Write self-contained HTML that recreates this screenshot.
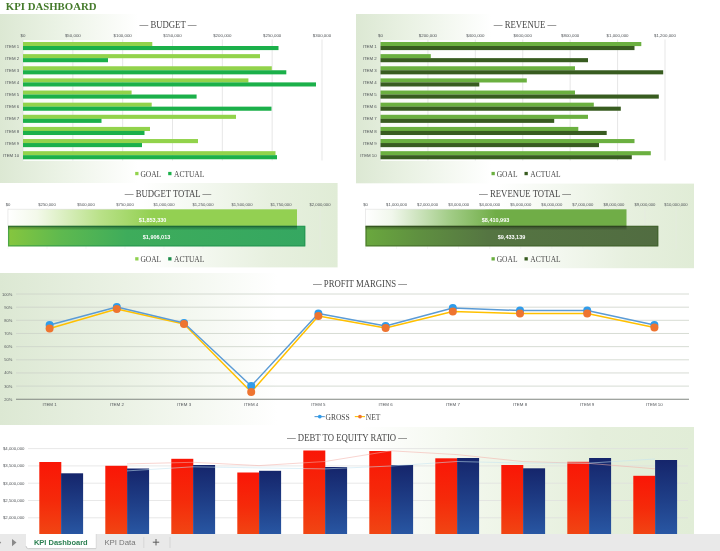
<!DOCTYPE html>
<html lang="en"><head><meta charset="utf-8"><title>KPI Dashboard</title>
<style>html,body{margin:0;padding:0;background:#fff;overflow:hidden}svg{display:block}</style></head><body>
<svg width="720" height="551" viewBox="0 0 720 551">
<defs>
<linearGradient id="gL" x1="0" x2="1" y1="0" y2="0"><stop offset="0" stop-color="#dce8d3"/><stop offset="0.16" stop-color="#eaf2e4"/><stop offset="0.4" stop-color="#ffffff"/></linearGradient>
<linearGradient id="gR" x1="0" x2="1" y1="0" y2="0"><stop offset="0.42" stop-color="#ffffff"/><stop offset="0.62" stop-color="#f2f7ee"/><stop offset="0.8" stop-color="#e7f0df"/><stop offset="1" stop-color="#e0ecd6"/></linearGradient>
<linearGradient id="gPM" x1="0" x2="1" y1="0" y2="0"><stop offset="0" stop-color="#dce8d3"/><stop offset="0.18" stop-color="#ebf2e5"/><stop offset="0.4" stop-color="#ffffff"/></linearGradient>
<linearGradient id="gDE" x1="0" x2="1" y1="0" y2="0"><stop offset="0.52" stop-color="#ffffff"/><stop offset="0.7" stop-color="#f0f6ea"/><stop offset="0.86" stop-color="#e5efdc"/><stop offset="1" stop-color="#e1edd7"/></linearGradient>
<linearGradient id="bgoal" x1="0" x2="1" y1="0" y2="0"><stop offset="0" stop-color="#ffffff"/><stop offset="0.1" stop-color="#f3f9ea"/><stop offset="0.32" stop-color="#b9e188"/><stop offset="0.5" stop-color="#93d052"/></linearGradient>
<linearGradient id="bact" x1="0" x2="1" y1="0" y2="0"><stop offset="0" stop-color="#86c63e"/><stop offset="0.18" stop-color="#5eb94f"/><stop offset="0.4" stop-color="#3eac5b"/><stop offset="1" stop-color="#35a761"/></linearGradient>
<linearGradient id="rgoal" x1="0" x2="1" y1="0" y2="0"><stop offset="0" stop-color="#ffffff"/><stop offset="0.1" stop-color="#f1f7ec"/><stop offset="0.32" stop-color="#a3cd88"/><stop offset="0.5" stop-color="#70ad47"/></linearGradient>
<linearGradient id="ract" x1="0" x2="1" y1="0" y2="0"><stop offset="0" stop-color="#6aa83e"/><stop offset="0.18" stop-color="#5f9040"/><stop offset="0.42" stop-color="#557542"/><stop offset="1" stop-color="#516c41"/></linearGradient>
<linearGradient id="red" x1="0" x2="0" y1="0" y2="1"><stop offset="0" stop-color="#fa1606"/><stop offset="0.5" stop-color="#f52a0a"/><stop offset="1" stop-color="#f04a15"/></linearGradient>
<linearGradient id="navy" x1="0" x2="0" y1="0" y2="1"><stop offset="0" stop-color="#15256b"/><stop offset="0.5" stop-color="#1f3f88"/><stop offset="1" stop-color="#2a5ba8"/></linearGradient>
<linearGradient id="shade" x1="0" x2="0" y1="0" y2="1"><stop offset="0" stop-color="#000" stop-opacity="0.38"/><stop offset="1" stop-color="#000" stop-opacity="0"/></linearGradient>
</defs>
<rect width="720" height="551" fill="#fff"/>
<text transform="translate(5.80 9.80) scale(1.1 1)" font-size="9.8" font-family="Liberation Serif, serif" fill="#447a2a" text-anchor="start" font-weight="bold">KPI DASHBOARD</text>
<rect x="0" y="14" width="345" height="169.2" fill="url(#gL)"/>
<rect x="356" y="14" width="338" height="169.5" fill="url(#gL)"/>
<rect x="0" y="183" width="337.6" height="84.4" fill="url(#gR)"/>
<rect x="356" y="183.6" width="338" height="84.6" fill="url(#gR)"/>
<rect x="0" y="273" width="694" height="152" fill="url(#gPM)"/>
<rect x="0" y="427" width="694" height="110" fill="url(#gDE)"/>
<rect x="23" y="40" width="311" height="121" fill="#fff" opacity="0.8"/>
<text transform="translate(168.00 28.00) scale(0.9 1)" font-size="9.7" font-family="Liberation Serif, serif" fill="#484848" text-anchor="middle">— BUDGET —</text>
<text x="23.00" y="36.80" font-size="4.4" font-family="Liberation Sans, sans-serif" fill="#505458" text-anchor="middle">$0</text>
<line x1="23.00" x2="23.00" y1="39.5" y2="160.5" stroke="#dcdcdc" stroke-width="0.7"/>
<text x="72.83" y="36.80" font-size="4.4" font-family="Liberation Sans, sans-serif" fill="#505458" text-anchor="middle">$50,000</text>
<line x1="72.83" x2="72.83" y1="39.5" y2="160.5" stroke="#dcdcdc" stroke-width="0.7"/>
<text x="122.67" y="36.80" font-size="4.4" font-family="Liberation Sans, sans-serif" fill="#505458" text-anchor="middle">$100,000</text>
<line x1="122.67" x2="122.67" y1="39.5" y2="160.5" stroke="#dcdcdc" stroke-width="0.7"/>
<text x="172.50" y="36.80" font-size="4.4" font-family="Liberation Sans, sans-serif" fill="#505458" text-anchor="middle">$150,000</text>
<line x1="172.50" x2="172.50" y1="39.5" y2="160.5" stroke="#dcdcdc" stroke-width="0.7"/>
<text x="222.33" y="36.80" font-size="4.4" font-family="Liberation Sans, sans-serif" fill="#505458" text-anchor="middle">$200,000</text>
<line x1="222.33" x2="222.33" y1="39.5" y2="160.5" stroke="#dcdcdc" stroke-width="0.7"/>
<text x="272.17" y="36.80" font-size="4.4" font-family="Liberation Sans, sans-serif" fill="#505458" text-anchor="middle">$250,000</text>
<line x1="272.17" x2="272.17" y1="39.5" y2="160.5" stroke="#dcdcdc" stroke-width="0.7"/>
<text x="322.00" y="36.80" font-size="4.4" font-family="Liberation Sans, sans-serif" fill="#505458" text-anchor="middle">$300,000</text>
<line x1="322.00" x2="322.00" y1="39.5" y2="160.5" stroke="#dcdcdc" stroke-width="0.7"/>
<rect x="23" y="42.00" width="129.30" height="4.1" fill="#92d34b"/>
<rect x="23" y="46.00" width="255.50" height="4.1" fill="#1bb04a"/>
<text x="19.20" y="47.65" font-size="4.35" font-family="Liberation Sans, sans-serif" fill="#505458" text-anchor="end">ITEM 1</text>
<rect x="23" y="54.13" width="237.00" height="4.1" fill="#92d34b"/>
<rect x="23" y="58.13" width="85.00" height="4.1" fill="#1bb04a"/>
<text x="19.20" y="59.78" font-size="4.35" font-family="Liberation Sans, sans-serif" fill="#505458" text-anchor="end">ITEM 2</text>
<rect x="23" y="66.26" width="248.80" height="4.1" fill="#92d34b"/>
<rect x="23" y="70.26" width="263.30" height="4.1" fill="#1bb04a"/>
<text x="19.20" y="71.91" font-size="4.35" font-family="Liberation Sans, sans-serif" fill="#505458" text-anchor="end">ITEM 3</text>
<rect x="23" y="78.39" width="225.40" height="4.1" fill="#92d34b"/>
<rect x="23" y="82.39" width="293.00" height="4.1" fill="#1bb04a"/>
<text x="19.20" y="84.04" font-size="4.35" font-family="Liberation Sans, sans-serif" fill="#505458" text-anchor="end">ITEM 4</text>
<rect x="23" y="90.52" width="108.60" height="4.1" fill="#92d34b"/>
<rect x="23" y="94.52" width="173.60" height="4.1" fill="#1bb04a"/>
<text x="19.20" y="96.17" font-size="4.35" font-family="Liberation Sans, sans-serif" fill="#505458" text-anchor="end">ITEM 5</text>
<rect x="23" y="102.65" width="128.70" height="4.1" fill="#92d34b"/>
<rect x="23" y="106.65" width="248.50" height="4.1" fill="#1bb04a"/>
<text x="19.20" y="108.30" font-size="4.35" font-family="Liberation Sans, sans-serif" fill="#505458" text-anchor="end">ITEM 6</text>
<rect x="23" y="114.78" width="213.00" height="4.1" fill="#92d34b"/>
<rect x="23" y="118.78" width="78.50" height="4.1" fill="#1bb04a"/>
<text x="19.20" y="120.43" font-size="4.35" font-family="Liberation Sans, sans-serif" fill="#505458" text-anchor="end">ITEM 7</text>
<rect x="23" y="126.91" width="127.00" height="4.1" fill="#92d34b"/>
<rect x="23" y="130.91" width="121.50" height="4.1" fill="#1bb04a"/>
<text x="19.20" y="132.56" font-size="4.35" font-family="Liberation Sans, sans-serif" fill="#505458" text-anchor="end">ITEM 8</text>
<rect x="23" y="139.04" width="175.00" height="4.1" fill="#92d34b"/>
<rect x="23" y="143.04" width="119.00" height="4.1" fill="#1bb04a"/>
<text x="19.20" y="144.69" font-size="4.35" font-family="Liberation Sans, sans-serif" fill="#505458" text-anchor="end">ITEM 9</text>
<rect x="23" y="151.17" width="252.50" height="4.1" fill="#92d34b"/>
<rect x="23" y="155.17" width="254.00" height="4.1" fill="#1bb04a"/>
<text x="19.20" y="156.82" font-size="4.35" font-family="Liberation Sans, sans-serif" fill="#505458" text-anchor="end">ITEM 10</text>
<rect x="135.2" y="171.90" width="3.3" height="3.3" fill="#92d34b"/>
<text transform="translate(140.40 177.00) scale(0.87 1)" font-size="8.6" font-family="Liberation Serif, serif" fill="#484848" text-anchor="start">GOAL</text>
<rect x="168.2" y="171.90" width="3.3" height="3.3" fill="#1bb04a"/>
<text transform="translate(174.00 177.00) scale(0.87 1)" font-size="8.6" font-family="Liberation Serif, serif" fill="#484848" text-anchor="start">ACTUAL</text>
<rect x="380.5" y="40" width="296.5" height="121" fill="#fff" opacity="0.8"/>
<text transform="translate(525.00 28.00) scale(0.9 1)" font-size="9.7" font-family="Liberation Serif, serif" fill="#484848" text-anchor="middle">— REVENUE —</text>
<text x="380.50" y="36.80" font-size="4.4" font-family="Liberation Sans, sans-serif" fill="#505458" text-anchor="middle">$0</text>
<line x1="380.50" x2="380.50" y1="39.5" y2="160.5" stroke="#dcdcdc" stroke-width="0.7"/>
<text x="427.92" y="36.80" font-size="4.4" font-family="Liberation Sans, sans-serif" fill="#505458" text-anchor="middle">$200,000</text>
<line x1="427.92" x2="427.92" y1="39.5" y2="160.5" stroke="#dcdcdc" stroke-width="0.7"/>
<text x="475.33" y="36.80" font-size="4.4" font-family="Liberation Sans, sans-serif" fill="#505458" text-anchor="middle">$400,000</text>
<line x1="475.33" x2="475.33" y1="39.5" y2="160.5" stroke="#dcdcdc" stroke-width="0.7"/>
<text x="522.75" y="36.80" font-size="4.4" font-family="Liberation Sans, sans-serif" fill="#505458" text-anchor="middle">$600,000</text>
<line x1="522.75" x2="522.75" y1="39.5" y2="160.5" stroke="#dcdcdc" stroke-width="0.7"/>
<text x="570.17" y="36.80" font-size="4.4" font-family="Liberation Sans, sans-serif" fill="#505458" text-anchor="middle">$800,000</text>
<line x1="570.17" x2="570.17" y1="39.5" y2="160.5" stroke="#dcdcdc" stroke-width="0.7"/>
<text x="617.58" y="36.80" font-size="4.4" font-family="Liberation Sans, sans-serif" fill="#505458" text-anchor="middle">$1,000,000</text>
<line x1="617.58" x2="617.58" y1="39.5" y2="160.5" stroke="#dcdcdc" stroke-width="0.7"/>
<text x="665.00" y="36.80" font-size="4.4" font-family="Liberation Sans, sans-serif" fill="#505458" text-anchor="middle">$1,200,000</text>
<line x1="665.00" x2="665.00" y1="39.5" y2="160.5" stroke="#dcdcdc" stroke-width="0.7"/>
<rect x="380.5" y="42.00" width="260.80" height="4.1" fill="#6bb040"/>
<rect x="380.5" y="46.00" width="254.00" height="4.1" fill="#385c20"/>
<text x="376.70" y="47.65" font-size="4.35" font-family="Liberation Sans, sans-serif" fill="#505458" text-anchor="end">ITEM 1</text>
<rect x="380.5" y="54.13" width="50.30" height="4.1" fill="#6bb040"/>
<rect x="380.5" y="58.13" width="207.50" height="4.1" fill="#385c20"/>
<text x="376.70" y="59.78" font-size="4.35" font-family="Liberation Sans, sans-serif" fill="#505458" text-anchor="end">ITEM 2</text>
<rect x="380.5" y="66.26" width="194.50" height="4.1" fill="#6bb040"/>
<rect x="380.5" y="70.26" width="282.70" height="4.1" fill="#385c20"/>
<text x="376.70" y="71.91" font-size="4.35" font-family="Liberation Sans, sans-serif" fill="#505458" text-anchor="end">ITEM 3</text>
<rect x="380.5" y="78.39" width="146.30" height="4.1" fill="#6bb040"/>
<rect x="380.5" y="82.39" width="98.80" height="4.1" fill="#385c20"/>
<text x="376.70" y="84.04" font-size="4.35" font-family="Liberation Sans, sans-serif" fill="#505458" text-anchor="end">ITEM 4</text>
<rect x="380.5" y="90.52" width="194.50" height="4.1" fill="#6bb040"/>
<rect x="380.5" y="94.52" width="278.30" height="4.1" fill="#385c20"/>
<text x="376.70" y="96.17" font-size="4.35" font-family="Liberation Sans, sans-serif" fill="#505458" text-anchor="end">ITEM 5</text>
<rect x="380.5" y="102.65" width="213.30" height="4.1" fill="#6bb040"/>
<rect x="380.5" y="106.65" width="240.30" height="4.1" fill="#385c20"/>
<text x="376.70" y="108.30" font-size="4.35" font-family="Liberation Sans, sans-serif" fill="#505458" text-anchor="end">ITEM 6</text>
<rect x="380.5" y="114.78" width="207.50" height="4.1" fill="#6bb040"/>
<rect x="380.5" y="118.78" width="173.70" height="4.1" fill="#385c20"/>
<text x="376.70" y="120.43" font-size="4.35" font-family="Liberation Sans, sans-serif" fill="#505458" text-anchor="end">ITEM 7</text>
<rect x="380.5" y="126.91" width="197.80" height="4.1" fill="#6bb040"/>
<rect x="380.5" y="130.91" width="226.20" height="4.1" fill="#385c20"/>
<text x="376.70" y="132.56" font-size="4.35" font-family="Liberation Sans, sans-serif" fill="#505458" text-anchor="end">ITEM 8</text>
<rect x="380.5" y="139.04" width="254.00" height="4.1" fill="#6bb040"/>
<rect x="380.5" y="143.04" width="218.50" height="4.1" fill="#385c20"/>
<text x="376.70" y="144.69" font-size="4.35" font-family="Liberation Sans, sans-serif" fill="#505458" text-anchor="end">ITEM 9</text>
<rect x="380.5" y="151.17" width="270.30" height="4.1" fill="#6bb040"/>
<rect x="380.5" y="155.17" width="251.30" height="4.1" fill="#385c20"/>
<text x="376.70" y="156.82" font-size="4.35" font-family="Liberation Sans, sans-serif" fill="#505458" text-anchor="end">ITEM 10</text>
<rect x="491.5" y="171.90" width="3.3" height="3.3" fill="#6bb040"/>
<text transform="translate(496.70 177.00) scale(0.87 1)" font-size="8.6" font-family="Liberation Serif, serif" fill="#484848" text-anchor="start">GOAL</text>
<rect x="524.5" y="171.90" width="3.3" height="3.3" fill="#385c20"/>
<text transform="translate(530.30 177.00) scale(0.87 1)" font-size="8.6" font-family="Liberation Serif, serif" fill="#484848" text-anchor="start">ACTUAL</text>
<text transform="translate(168.00 196.80) scale(0.9 1)" font-size="9.7" font-family="Liberation Serif, serif" fill="#484848" text-anchor="middle">— BUDGET TOTAL —</text>
<text x="8.00" y="205.60" font-size="4.2" font-family="Liberation Sans, sans-serif" fill="#505458" text-anchor="middle">$0</text>
<line x1="8.00" x2="8.00" y1="208" y2="249" stroke="#e6e6e6" stroke-width="0.6" opacity="0.6"/>
<text x="47.00" y="205.60" font-size="4.2" font-family="Liberation Sans, sans-serif" fill="#505458" text-anchor="middle">$250,000</text>
<line x1="47.00" x2="47.00" y1="208" y2="249" stroke="#e6e6e6" stroke-width="0.6" opacity="0.6"/>
<text x="86.00" y="205.60" font-size="4.2" font-family="Liberation Sans, sans-serif" fill="#505458" text-anchor="middle">$500,000</text>
<line x1="86.00" x2="86.00" y1="208" y2="249" stroke="#e6e6e6" stroke-width="0.6" opacity="0.6"/>
<text x="125.00" y="205.60" font-size="4.2" font-family="Liberation Sans, sans-serif" fill="#505458" text-anchor="middle">$750,000</text>
<line x1="125.00" x2="125.00" y1="208" y2="249" stroke="#e6e6e6" stroke-width="0.6" opacity="0.6"/>
<text x="164.00" y="205.60" font-size="4.2" font-family="Liberation Sans, sans-serif" fill="#505458" text-anchor="middle">$1,000,000</text>
<line x1="164.00" x2="164.00" y1="208" y2="249" stroke="#e6e6e6" stroke-width="0.6" opacity="0.6"/>
<text x="203.00" y="205.60" font-size="4.2" font-family="Liberation Sans, sans-serif" fill="#505458" text-anchor="middle">$1,250,000</text>
<line x1="203.00" x2="203.00" y1="208" y2="249" stroke="#e6e6e6" stroke-width="0.6" opacity="0.6"/>
<text x="242.00" y="205.60" font-size="4.2" font-family="Liberation Sans, sans-serif" fill="#505458" text-anchor="middle">$1,500,000</text>
<line x1="242.00" x2="242.00" y1="208" y2="249" stroke="#e6e6e6" stroke-width="0.6" opacity="0.6"/>
<text x="281.00" y="205.60" font-size="4.2" font-family="Liberation Sans, sans-serif" fill="#505458" text-anchor="middle">$1,750,000</text>
<line x1="281.00" x2="281.00" y1="208" y2="249" stroke="#e6e6e6" stroke-width="0.6" opacity="0.6"/>
<text x="320.00" y="205.60" font-size="4.2" font-family="Liberation Sans, sans-serif" fill="#505458" text-anchor="middle">$2,000,000</text>
<line x1="320.00" x2="320.00" y1="208" y2="249" stroke="#e6e6e6" stroke-width="0.6" opacity="0.6"/>
<rect x="8" y="209.3" width="289.00" height="16.7" fill="url(#bgoal)"/>
<path d="M8 226 V209.3 H128" fill="none" stroke="#cfcfcf" stroke-width="0.5" opacity="0.7"/>
<rect x="8" y="225.8" width="297.30" height="20.6" fill="url(#bact)"/>
<rect x="8.6" y="226.4" width="296.10" height="19.4" fill="none" stroke="#1d8c4a" stroke-width="1.2" opacity="0.55"/>
<rect x="8" y="225.8" width="289.00" height="4.5" fill="url(#shade)"/>
<text x="152.60" y="222.40" font-size="5.5" font-family="Liberation Sans, sans-serif" fill="#fff" text-anchor="middle" font-weight="bold">$1,853,330</text>
<text x="156.50" y="238.60" font-size="5.5" font-family="Liberation Sans, sans-serif" fill="#fff" text-anchor="middle" font-weight="bold">$1,906,013</text>
<rect x="135.2" y="257.20" width="3.3" height="3.3" fill="#8fd14f"/>
<text transform="translate(140.40 261.90) scale(0.87 1)" font-size="8.6" font-family="Liberation Serif, serif" fill="#484848" text-anchor="start">GOAL</text>
<rect x="168.2" y="257.20" width="3.3" height="3.3" fill="#1d8c4a"/>
<text transform="translate(174.00 261.90) scale(0.87 1)" font-size="8.6" font-family="Liberation Serif, serif" fill="#484848" text-anchor="start">ACTUAL</text>
<text transform="translate(525.00 196.80) scale(0.9 1)" font-size="9.7" font-family="Liberation Serif, serif" fill="#484848" text-anchor="middle">— REVENUE TOTAL —</text>
<text x="365.50" y="205.60" font-size="4.2" font-family="Liberation Sans, sans-serif" fill="#505458" text-anchor="middle">$0</text>
<line x1="365.50" x2="365.50" y1="208" y2="249" stroke="#e6e6e6" stroke-width="0.6" opacity="0.6"/>
<text x="396.55" y="205.60" font-size="4.2" font-family="Liberation Sans, sans-serif" fill="#505458" text-anchor="middle">$1,000,000</text>
<line x1="396.55" x2="396.55" y1="208" y2="249" stroke="#e6e6e6" stroke-width="0.6" opacity="0.6"/>
<text x="427.60" y="205.60" font-size="4.2" font-family="Liberation Sans, sans-serif" fill="#505458" text-anchor="middle">$2,000,000</text>
<line x1="427.60" x2="427.60" y1="208" y2="249" stroke="#e6e6e6" stroke-width="0.6" opacity="0.6"/>
<text x="458.65" y="205.60" font-size="4.2" font-family="Liberation Sans, sans-serif" fill="#505458" text-anchor="middle">$3,000,000</text>
<line x1="458.65" x2="458.65" y1="208" y2="249" stroke="#e6e6e6" stroke-width="0.6" opacity="0.6"/>
<text x="489.70" y="205.60" font-size="4.2" font-family="Liberation Sans, sans-serif" fill="#505458" text-anchor="middle">$4,000,000</text>
<line x1="489.70" x2="489.70" y1="208" y2="249" stroke="#e6e6e6" stroke-width="0.6" opacity="0.6"/>
<text x="520.75" y="205.60" font-size="4.2" font-family="Liberation Sans, sans-serif" fill="#505458" text-anchor="middle">$5,000,000</text>
<line x1="520.75" x2="520.75" y1="208" y2="249" stroke="#e6e6e6" stroke-width="0.6" opacity="0.6"/>
<text x="551.80" y="205.60" font-size="4.2" font-family="Liberation Sans, sans-serif" fill="#505458" text-anchor="middle">$6,000,000</text>
<line x1="551.80" x2="551.80" y1="208" y2="249" stroke="#e6e6e6" stroke-width="0.6" opacity="0.6"/>
<text x="582.85" y="205.60" font-size="4.2" font-family="Liberation Sans, sans-serif" fill="#505458" text-anchor="middle">$7,000,000</text>
<line x1="582.85" x2="582.85" y1="208" y2="249" stroke="#e6e6e6" stroke-width="0.6" opacity="0.6"/>
<text x="613.90" y="205.60" font-size="4.2" font-family="Liberation Sans, sans-serif" fill="#505458" text-anchor="middle">$8,000,000</text>
<line x1="613.90" x2="613.90" y1="208" y2="249" stroke="#e6e6e6" stroke-width="0.6" opacity="0.6"/>
<text x="644.95" y="205.60" font-size="4.2" font-family="Liberation Sans, sans-serif" fill="#505458" text-anchor="middle">$9,000,000</text>
<line x1="644.95" x2="644.95" y1="208" y2="249" stroke="#e6e6e6" stroke-width="0.6" opacity="0.6"/>
<text x="676.00" y="205.60" font-size="4.2" font-family="Liberation Sans, sans-serif" fill="#505458" text-anchor="middle">$10,000,000</text>
<line x1="676.00" x2="676.00" y1="208" y2="249" stroke="#e6e6e6" stroke-width="0.6" opacity="0.6"/>
<rect x="365.5" y="209.3" width="261.00" height="16.7" fill="url(#rgoal)"/>
<path d="M365.5 226 V209.3 H485.5" fill="none" stroke="#cfcfcf" stroke-width="0.5" opacity="0.7"/>
<rect x="365.5" y="225.8" width="292.80" height="20.6" fill="url(#ract)"/>
<rect x="366.1" y="226.4" width="291.60" height="19.4" fill="none" stroke="#385c20" stroke-width="1.2" opacity="0.55"/>
<rect x="365.5" y="225.8" width="261.00" height="4.5" fill="url(#shade)"/>
<text x="495.50" y="222.40" font-size="5.5" font-family="Liberation Sans, sans-serif" fill="#fff" text-anchor="middle" font-weight="bold">$8,410,993</text>
<text x="511.50" y="238.60" font-size="5.5" font-family="Liberation Sans, sans-serif" fill="#fff" text-anchor="middle" font-weight="bold">$9,433,139</text>
<rect x="491.5" y="257.20" width="3.3" height="3.3" fill="#6bb040"/>
<text transform="translate(496.70 261.90) scale(0.87 1)" font-size="8.6" font-family="Liberation Serif, serif" fill="#484848" text-anchor="start">GOAL</text>
<rect x="524.5" y="257.20" width="3.3" height="3.3" fill="#385c20"/>
<text transform="translate(530.30 261.90) scale(0.87 1)" font-size="8.6" font-family="Liberation Serif, serif" fill="#484848" text-anchor="start">ACTUAL</text>
<text transform="translate(360.00 286.80) scale(0.9 1)" font-size="9.7" font-family="Liberation Serif, serif" fill="#484848" text-anchor="middle">— PROFIT MARGINS —</text>
<line x1="16" x2="689" y1="294.00" y2="294.00" stroke="#cdd3c9" stroke-width="0.8"/>
<text x="12.30" y="295.50" font-size="4.0" font-family="Liberation Sans, sans-serif" fill="#505458" text-anchor="end">100%</text>
<line x1="16" x2="689" y1="307.16" y2="307.16" stroke="#cdd3c9" stroke-width="0.8"/>
<text x="12.30" y="308.66" font-size="4.0" font-family="Liberation Sans, sans-serif" fill="#505458" text-anchor="end">90%</text>
<line x1="16" x2="689" y1="320.32" y2="320.32" stroke="#cdd3c9" stroke-width="0.8"/>
<text x="12.30" y="321.82" font-size="4.0" font-family="Liberation Sans, sans-serif" fill="#505458" text-anchor="end">80%</text>
<line x1="16" x2="689" y1="333.48" y2="333.48" stroke="#cdd3c9" stroke-width="0.8"/>
<text x="12.30" y="334.98" font-size="4.0" font-family="Liberation Sans, sans-serif" fill="#505458" text-anchor="end">70%</text>
<line x1="16" x2="689" y1="346.64" y2="346.64" stroke="#cdd3c9" stroke-width="0.8"/>
<text x="12.30" y="348.14" font-size="4.0" font-family="Liberation Sans, sans-serif" fill="#505458" text-anchor="end">60%</text>
<line x1="16" x2="689" y1="359.80" y2="359.80" stroke="#cdd3c9" stroke-width="0.8"/>
<text x="12.30" y="361.30" font-size="4.0" font-family="Liberation Sans, sans-serif" fill="#505458" text-anchor="end">50%</text>
<line x1="16" x2="689" y1="372.96" y2="372.96" stroke="#cdd3c9" stroke-width="0.8"/>
<text x="12.30" y="374.46" font-size="4.0" font-family="Liberation Sans, sans-serif" fill="#505458" text-anchor="end">40%</text>
<line x1="16" x2="689" y1="386.12" y2="386.12" stroke="#cdd3c9" stroke-width="0.8"/>
<text x="12.30" y="387.62" font-size="4.0" font-family="Liberation Sans, sans-serif" fill="#505458" text-anchor="end">30%</text>
<line x1="16" x2="689" y1="399.28" y2="399.28" stroke="#808680" stroke-width="1.1"/>
<text x="12.30" y="400.78" font-size="4.0" font-family="Liberation Sans, sans-serif" fill="#505458" text-anchor="end">20%</text>
<text x="49.60" y="406.10" font-size="4.4" font-family="Liberation Sans, sans-serif" fill="#505458" text-anchor="middle">ITEM 1</text>
<text x="116.80" y="406.10" font-size="4.4" font-family="Liberation Sans, sans-serif" fill="#505458" text-anchor="middle">ITEM 2</text>
<text x="184.00" y="406.10" font-size="4.4" font-family="Liberation Sans, sans-serif" fill="#505458" text-anchor="middle">ITEM 3</text>
<text x="251.20" y="406.10" font-size="4.4" font-family="Liberation Sans, sans-serif" fill="#505458" text-anchor="middle">ITEM 4</text>
<text x="318.40" y="406.10" font-size="4.4" font-family="Liberation Sans, sans-serif" fill="#505458" text-anchor="middle">ITEM 5</text>
<text x="385.60" y="406.10" font-size="4.4" font-family="Liberation Sans, sans-serif" fill="#505458" text-anchor="middle">ITEM 6</text>
<text x="452.80" y="406.10" font-size="4.4" font-family="Liberation Sans, sans-serif" fill="#505458" text-anchor="middle">ITEM 7</text>
<text x="520.00" y="406.10" font-size="4.4" font-family="Liberation Sans, sans-serif" fill="#505458" text-anchor="middle">ITEM 8</text>
<text x="587.20" y="406.10" font-size="4.4" font-family="Liberation Sans, sans-serif" fill="#505458" text-anchor="middle">ITEM 9</text>
<text x="654.40" y="406.10" font-size="4.4" font-family="Liberation Sans, sans-serif" fill="#505458" text-anchor="middle">ITEM 10</text>
<polyline fill="none" stroke="#ffc000" stroke-width="1.5" stroke-linejoin="round" points="49.6,328.5 116.8,309.0 184.0,324.0 251.2,392.0 318.4,316.0 385.6,328.0 452.8,311.5 520.0,313.5 587.2,313.5 654.4,327.5"/>
<polyline fill="none" stroke="#5b9bd5" stroke-width="1.5" stroke-linejoin="round" points="49.6,325.0 116.8,307.0 184.0,323.0 251.2,386.0 318.4,313.5 385.6,326.0 452.8,308.0 520.0,310.5 587.2,310.5 654.4,325.0"/>
<circle cx="49.6" cy="325.0" r="4" fill="#2f9ceb"/>
<circle cx="116.8" cy="307.0" r="4" fill="#2f9ceb"/>
<circle cx="184.0" cy="323.0" r="4" fill="#2f9ceb"/>
<circle cx="251.2" cy="386.0" r="4" fill="#2f9ceb"/>
<circle cx="318.4" cy="313.5" r="4" fill="#2f9ceb"/>
<circle cx="385.6" cy="326.0" r="4" fill="#2f9ceb"/>
<circle cx="452.8" cy="308.0" r="4" fill="#2f9ceb"/>
<circle cx="520.0" cy="310.5" r="4" fill="#2f9ceb"/>
<circle cx="587.2" cy="310.5" r="4" fill="#2f9ceb"/>
<circle cx="654.4" cy="325.0" r="4" fill="#2f9ceb"/>
<circle cx="49.6" cy="328.5" r="4" fill="#ee7430"/>
<circle cx="116.8" cy="309.0" r="4" fill="#ee7430"/>
<circle cx="184.0" cy="324.0" r="4" fill="#ee7430"/>
<circle cx="251.2" cy="392.0" r="4" fill="#ee7430"/>
<circle cx="318.4" cy="316.0" r="4" fill="#ee7430"/>
<circle cx="385.6" cy="328.0" r="4" fill="#ee7430"/>
<circle cx="452.8" cy="311.5" r="4" fill="#ee7430"/>
<circle cx="520.0" cy="313.5" r="4" fill="#ee7430"/>
<circle cx="587.2" cy="313.5" r="4" fill="#ee7430"/>
<circle cx="654.4" cy="327.5" r="4" fill="#ee7430"/>
<line x1="314.5" x2="324.8" y1="416.6" y2="416.6" stroke="#5b9bd5" stroke-width="1.1"/><circle cx="319.8" cy="416.6" r="1.9" fill="#2f9ceb"/>
<text transform="translate(325.50 419.50) scale(0.87 1)" font-size="8.6" font-family="Liberation Serif, serif" fill="#484848" text-anchor="start">GROSS</text>
<line x1="354.8" x2="365" y1="416.6" y2="416.6" stroke="#ffc000" stroke-width="1.1"/><circle cx="360" cy="416.6" r="1.9" fill="#ee7430"/>
<text transform="translate(365.80 419.50) scale(0.87 1)" font-size="8.6" font-family="Liberation Serif, serif" fill="#484848" text-anchor="start">NET</text>
<text transform="translate(347.00 441.00) scale(0.9 1)" font-size="9.7" font-family="Liberation Serif, serif" fill="#484848" text-anchor="middle">— DEBT TO EQUITY RATIO —</text>
<line x1="28" x2="688" y1="448.60" y2="448.60" stroke="#dedede" stroke-width="0.7"/>
<text x="24.50" y="450.15" font-size="4.3" font-family="Liberation Sans, sans-serif" fill="#505458" text-anchor="end">$4,000,000</text>
<line x1="28" x2="688" y1="465.90" y2="465.90" stroke="#dedede" stroke-width="0.7"/>
<text x="24.50" y="467.45" font-size="4.3" font-family="Liberation Sans, sans-serif" fill="#505458" text-anchor="end">$3,500,000</text>
<line x1="28" x2="688" y1="483.20" y2="483.20" stroke="#dedede" stroke-width="0.7"/>
<text x="24.50" y="484.75" font-size="4.3" font-family="Liberation Sans, sans-serif" fill="#505458" text-anchor="end">$3,000,000</text>
<line x1="28" x2="688" y1="500.50" y2="500.50" stroke="#dedede" stroke-width="0.7"/>
<text x="24.50" y="502.05" font-size="4.3" font-family="Liberation Sans, sans-serif" fill="#505458" text-anchor="end">$2,500,000</text>
<line x1="28" x2="688" y1="517.80" y2="517.80" stroke="#dedede" stroke-width="0.7"/>
<text x="24.50" y="519.35" font-size="4.3" font-family="Liberation Sans, sans-serif" fill="#505458" text-anchor="end">$2,000,000</text>
<line x1="28" x2="688" y1="535.10" y2="535.10" stroke="#dedede" stroke-width="0.7"/>
<text x="24.50" y="536.65" font-size="4.3" font-family="Liberation Sans, sans-serif" fill="#505458" text-anchor="end">$1,500,000</text>
<rect x="39.3" y="462" width="22" height="78.0" fill="url(#red)"/>
<rect x="61.1" y="473.3" width="22" height="66.7" fill="url(#navy)"/>
<rect x="105.3" y="465.8" width="22" height="74.2" fill="url(#red)"/>
<rect x="127.1" y="468.5" width="22" height="71.5" fill="url(#navy)"/>
<rect x="171.3" y="458.8" width="22" height="81.2" fill="url(#red)"/>
<rect x="193.1" y="465" width="22" height="75.0" fill="url(#navy)"/>
<rect x="237.3" y="472.5" width="22" height="67.5" fill="url(#red)"/>
<rect x="259.1" y="470.8" width="22" height="69.2" fill="url(#navy)"/>
<rect x="303.3" y="450.5" width="22" height="89.5" fill="url(#red)"/>
<rect x="325.1" y="467" width="22" height="73.0" fill="url(#navy)"/>
<rect x="369.3" y="451" width="22" height="89.0" fill="url(#red)"/>
<rect x="391.1" y="465" width="22" height="75.0" fill="url(#navy)"/>
<rect x="435.3" y="458.3" width="22" height="81.7" fill="url(#red)"/>
<rect x="457.1" y="458" width="22" height="82.0" fill="url(#navy)"/>
<rect x="501.3" y="465" width="22" height="75.0" fill="url(#red)"/>
<rect x="523.1" y="468.3" width="22" height="71.7" fill="url(#navy)"/>
<rect x="567.3" y="461.8" width="22" height="78.2" fill="url(#red)"/>
<rect x="589.1" y="458" width="22" height="82.0" fill="url(#navy)"/>
<rect x="633.3" y="475.8" width="22" height="64.2" fill="url(#red)"/>
<rect x="655.1" y="460" width="22" height="80.0" fill="url(#navy)"/>
<polyline fill="none" stroke="#f4b0a8" stroke-width="0.55" points="127,463.9 193,462.3 259,465.6 325,461.5 391,450.8 457,454.6 523,461.6 589,463.4 655,468.8"/>
<polyline fill="none" stroke="#c5e4f0" stroke-width="0.55" points="127,470.9 193,466.8 259,467.9 325,468.9 391,466.0 457,461.5 523,463.1 589,463.1 655,459.0"/>
<rect x="0" y="534" width="720" height="17" fill="#e9e9e9"/>
<path d="M26 534 H96 V548.4 H28.5 Q26 548.4 26 546 Z" fill="#fff"/>
<path d="M26 546 Q26 548.6 28.5 548.6 H96" fill="none" stroke="#bdbdbd" stroke-width="0.7"/>
<line x1="96.2" x2="96.2" y1="534" y2="548.6" stroke="#d0d0d0" stroke-width="0.6"/>
<path d="M12 539 L16.5 542.6 L12 546.2 Z" fill="#8a8a8a"/>
<path d="M-3 539 L1.2 542.6 L-3 546.2 Z" fill="#8a8a8a"/>
<text x="60.80" y="544.60" font-size="7.5" font-family="Liberation Sans, sans-serif" fill="#2c8152" text-anchor="middle" font-weight="bold">KPI Dashboard</text>
<text x="120.00" y="544.60" font-size="7.8" font-family="Liberation Sans, sans-serif" fill="#777" text-anchor="middle">KPI Data</text>
<line x1="143.8" x2="143.8" y1="537" y2="548" stroke="#cfcfcf" stroke-width="0.7"/>
<line x1="170" x2="170" y1="537" y2="548" stroke="#cfcfcf" stroke-width="0.7"/>
<path d="M152.8 542.2 H159.2 M156 539 V545.4" stroke="#5a5a5a" stroke-width="1" fill="none"/>
</svg></body></html>
